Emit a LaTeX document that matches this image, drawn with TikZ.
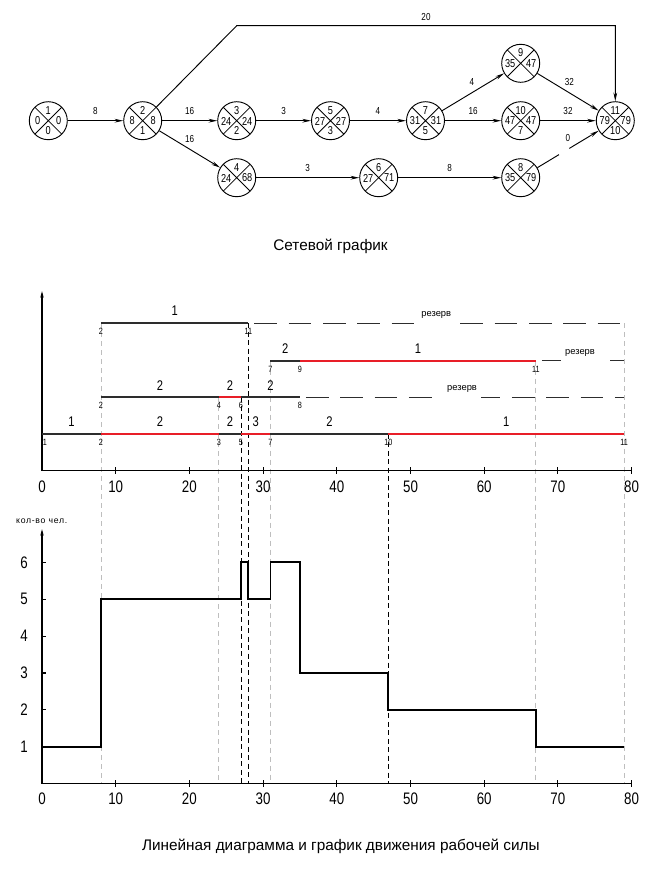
\documentclass[tikz,border=0pt]{standalone}
\usepackage{fontspec}
\setmainfont{Liberation Sans}
\newfontfamily\gostf[FakeStretch=0.8]{Liberation Sans}
\usetikzlibrary{arrows.meta,calc}
\definecolor{barblk}{RGB}{45,45,45}
\definecolor{barred}{RGB}{232,30,40}
\definecolor{vgr}{RGB}{190,190,190}
\newcommand{\EvNode}[5]{%
  \node[ev] (#1) at (#2) {};
  \node[evnum] (#1t) at ($(#1)+(0,-10.5)$) {#3};
  \node[evnum] (#1l) at ($(#1)+(-10.5,0.3)$) {#4};
  \node[evnum] (#1r) at ($(#1)+(10.5,0.3)$) {#5};
}
\newcommand{\EvBot}[2]{\node[evnum] (#1b) at ($(#1)+(0,10)$) {#2};}
\begin{document}
\begin{tikzpicture}[x=0.75pt,y=-0.75pt,
 declare function={X(\t)=42+7.37*\t; Y(\v)=783.7-36.9*\v;},
 ev/.style={circle,draw,line width=0.7pt,minimum size=28.5pt,inner sep=0pt,
   path picture={\draw[line width=0.6pt] (path picture bounding box.north west)--(path picture bounding box.south east) (path picture bounding box.north east)--(path picture bounding box.south west);}},
 evnum/.style={font=\gostf\fontsize{8.6}{9}\selectfont,inner sep=0pt},
 elab/.style={font=\gostf\fontsize{7.6}{8}\selectfont,inner sep=0pt},
 arr/.style={line width=0.7pt,-{Stealth[length=6.5pt,width=2.8pt]}},
 conn/.style={line width=0.7pt},
 captxt/.style={font=\fontsize{11.5}{13}\selectfont,inner sep=0pt},
 axis/.style={line width=0.8pt},
 axarr/.style={line width=0.8pt,-{Stealth[length=5pt,width=2.5pt]}},
 axlab/.style={font=\gostf\fontsize{12.5}{13}\selectfont,inner sep=0pt},
 barlab/.style={font=\gostf\fontsize{10.5}{12}\selectfont,inner sep=0pt},
 evlab/.style={font=\gostf\fontsize{6.8}{7}\selectfont,inner sep=0pt},
 bblk/.style={line width=1.3pt,barblk},
 bred/.style={line width=1.3pt,barred},
 bres/.style={line width=0.9pt,barblk,dash pattern=on 17pt off 8.75pt},
 restxt/.style={font=\fontsize{7}{8}\selectfont,fill=white,inner xsep=3pt,inner ysep=0pt,minimum height=13.5pt},
 ylabtxt/.style={font=\fontsize{6.5}{7}\selectfont\addfontfeature{LetterSpace=8},inner sep=0pt},
 vg/.style={line width=0.6pt,vgr,dash pattern=on 3.75pt off 3pt},
 vk/.style={line width=0.6pt,black,dash pattern=on 3.75pt off 2.6pt},
 stepline/.style={line width=1.35pt,black,line join=miter}
]
\path[use as bounding box,fill=white] (0,0) rectangle (667,879);

% ---------------- network ----------------
\EvNode{n1}{48.3,120.7}{1}{0}{0}\EvBot{n1}{0}
\EvNode{n2}{142.7,120.7}{2}{8}{8}\EvBot{n2}{1}
\EvNode{n3}{236.7,120.7}{3}{24}{24}\EvBot{n3}{2}
\EvNode{n5}{330.5,120.7}{5}{27}{27}\EvBot{n5}{3}
\EvNode{n7}{425.5,120.7}{7}{31}{31}\EvBot{n7}{5}
\EvNode{n9}{520.7,63.3}{9}{35}{47}
\EvNode{n10}{520.7,120.7}{10}{47}{47}\EvBot{n10}{7}
\EvNode{n11}{615.3,120.7}{11}{79}{79}\EvBot{n11}{10}
\EvNode{n4}{236.7,177.7}{4}{24}{68}
\EvNode{n6}{378.7,177.7}{6}{27}{71}
\EvNode{n8}{520.7,177.7}{8}{35}{79}

\draw[arr] (n1) -- node[elab,midway,above=4pt] (e12) {8} (n2);
\draw[arr] (n2) -- node[elab,midway,above=4pt] (e23) {16} (n3);
\draw[arr] (n3) -- node[elab,midway,above=4pt] (e35) {3} (n5);
\draw[arr] (n5) -- node[elab,midway,above=4pt] (e57) {4} (n7);
\draw[arr] (n7) -- node[elab,midway,above=4pt] (e710) {16} (n10);
\draw[arr] (n10) -- node[elab,midway,above=4pt] (e1011) {32} (n11);
\draw[arr] (n2) -- node[elab,midway,above=4.8pt] (e24) {16} (n4);
\draw[arr] (n4) -- node[elab,midway,above=4pt] (e46) {3} (n6);
\draw[arr] (n6) -- node[elab,midway,above=4pt] (e68) {8} (n8);
\draw[arr] (n7) -- node[elab,midway,above=4.3pt,xshift=-1pt] (e79) {4} (n9);
\draw[arr] (n9) -- node[elab,midway,above=4.3pt,xshift=1pt] (e911) {32} (n11);
\coordinate (g1) at ($(n8)!0.405!(n11)$);
\coordinate (g2) at ($(n8)!0.514!(n11)$);
\draw[conn] (n8) -- (g1);
\draw[arr] (g2) -- (n11);
\node[elab] (e811) at ($(n8)!0.5!(n11)+(0,-11)$) {0};
\coordinate (c1) at (236.7,25.7);
\coordinate (c2) at (n11 |- c1);
\draw[arr] (n2.45) -- (c1) -- (c2) -- (n11.north);
\node[elab] (e211) at ($(c1)!0.5!(c2)+(0,-9)$) {20};

\node[captxt] (cap1) at (330.5,246) {Сетевой график};

% ---------------- linear diagram ----------------
\draw[vg] ({X(8)},323.3) -- ({X(8)},783.7);
\draw[vg] ({X(24)},397.3) -- ({X(24)},783.7);
\draw[vg] ({X(31)},360.7) -- ({X(31)},783.7);
\draw[vg] ({X(67)},360.7) -- ({X(67)},783.7);
\draw[vg] ({X(79)},323.3) -- ({X(79)},783.7);
\draw[vk] ({X(27)},397.3) -- ({X(27)},783.7);
\draw[vk] ({X(28)},323.3) -- ({X(28)},783.7);
\draw[vk] ({X(47)},434) -- ({X(47)},783.7);

\draw[axarr] (42,470.7) -- (42,291);
\draw[axis] (42,470.7) -- ({X(80)},470.7);
\foreach \v in {10,20,...,80} \draw[axis] ({X(\v)},467) -- ({X(\v)},474);
\foreach \v in {0,10,...,80} \node[axlab] (ut\v) at ({X(\v)},486.5) {\v};

% row A
\draw[bblk] ({X(8)},323.3) -- ({X(28)},323.3);
\draw[bres] ({X(28)+6},323.3) -- ({X(79)},323.3);
\node[restxt] (rA) at ({X(53.5)},315) {резерв};
\node[barlab] (lA1) at ({X(18)},311) {1};
% row B
\draw[bblk] ({X(31)},360.7) -- ({X(35)},360.7);
\draw[bred] ({X(35)},360.7) -- ({X(67)},360.7);
\draw[bres] ({X(67)+6},360.7) -- ({X(79)},360.7);
\node[restxt] (rB) at ({X(73)},352.7) {резерв};
\node[barlab] (lB1) at ({X(33)},348.5) {2};
\node[barlab] (lB2) at ({X(51)},348.5) {1};
% row C
\draw[bblk] ({X(8)},397.3) -- ({X(24)},397.3);
\draw[bred] ({X(24)},397.3) -- ({X(27)},397.3);
\draw[bblk] ({X(27)},397.3) -- ({X(35)},397.3);
\draw[bres] ({X(35)+6},397.3) -- ({X(79)},397.3);
\node[restxt] (rC) at ({X(57)},389.3) {резерв};
\node[barlab] (lC1) at ({X(16)},385.5) {2};
\node[barlab] (lC2) at ({X(25.5)},385.5) {2};
\node[barlab] (lC3) at ({X(31)},385.5) {2};
% row D
\draw[bblk] ({X(0)},434) -- ({X(8)},434);
\draw[bred] ({X(8)},434) -- ({X(24)},434);
\draw[bblk] ({X(24)},434) -- ({X(27)},434);
\draw[bred] ({X(27)},434) -- ({X(31)},434);
\draw[bblk] ({X(31)},434) -- ({X(47)},434);
\draw[bred] ({X(47)},434) -- ({X(79)},434);
\node[barlab] (lD1) at ({X(4)},422) {1};
\node[barlab] (lD2) at ({X(16)},422) {2};
\node[barlab] (lD3) at ({X(25.5)},422) {2};
\node[barlab] (lD4) at ({X(29)},422) {3};
\node[barlab] (lD5) at ({X(39)},422) {2};
\node[barlab] (lD6) at ({X(63)},422) {1};

\node[evlab] (a1) at ({X(8)},331.7) {2};
\node[evlab] (a2) at ({X(28)},331.7) {11};
\node[evlab] (b1) at ({X(31)},369) {7};
\node[evlab] (b2) at ({X(35)},369) {9};
\node[evlab] (b3) at ({X(67)},369) {11};
\node[evlab] (cc1) at ({X(8)},405.7) {2};
\node[evlab] (cc2) at ({X(24)},405.7) {4};
\node[evlab] (cc3) at ({X(27)},405.7) {6};
\node[evlab] (cc4) at ({X(35)},405.7) {8};
\node[evlab] (d1) at ({X(0)+3},442.4) {1};
\node[evlab] (d2) at ({X(8)},442.4) {2};
\node[evlab] (d3) at ({X(24)},442.4) {3};
\node[evlab] (d4) at ({X(27)},442.4) {5};
\node[evlab] (d5) at ({X(31)},442.4) {7};
\node[evlab] (d6) at ({X(47)},442.4) {10};
\node[evlab] (d7) at ({X(79)},442.4) {11};

% ---------------- workforce chart ----------------
\draw[axarr] (42,783.7) -- (42,529);
\draw[axis] (42,783.7) -- ({X(80)},783.7);
\foreach \v in {10,20,...,80} \draw[axis] ({X(\v)},780.2) -- ({X(\v)},787.2);
\foreach \v in {0,10,...,80} \node[axlab] (lt\v) at ({X(\v)},799) {\v};
\foreach \v in {1,...,6} {
  \draw[axis] (42,{Y(\v)}) -- (45.7,{Y(\v)});
  \node[axlab] (yl\v) at (24,{Y(\v)}) {\v};
}
\node[ylabtxt] (ylab) at (41.7,521) {кол-во чел.};
\draw[stepline] ({X(0)},{Y(1)}) -- ({X(8)},{Y(1)}) -- ({X(8)},{Y(5)}) -- ({X(27)},{Y(5)})
  -- ({X(27)},{Y(6)}) -- ({X(28)},{Y(6)}) -- ({X(28)},{Y(5)}) -- ({X(31)},{Y(5)})
  -- ({X(31)},{Y(6)}) -- ({X(35)},{Y(6)}) -- ({X(35)},{Y(3)}) -- ({X(47)},{Y(3)})
  -- ({X(47)},{Y(2)}) -- ({X(67)},{Y(2)}) -- ({X(67)},{Y(1)}) -- ({X(79)},{Y(1)});

\node[captxt] (cap2) at (340.8,846) {Линейная диаграмма и график движения рабочей силы};
\end{tikzpicture}
\end{document}
